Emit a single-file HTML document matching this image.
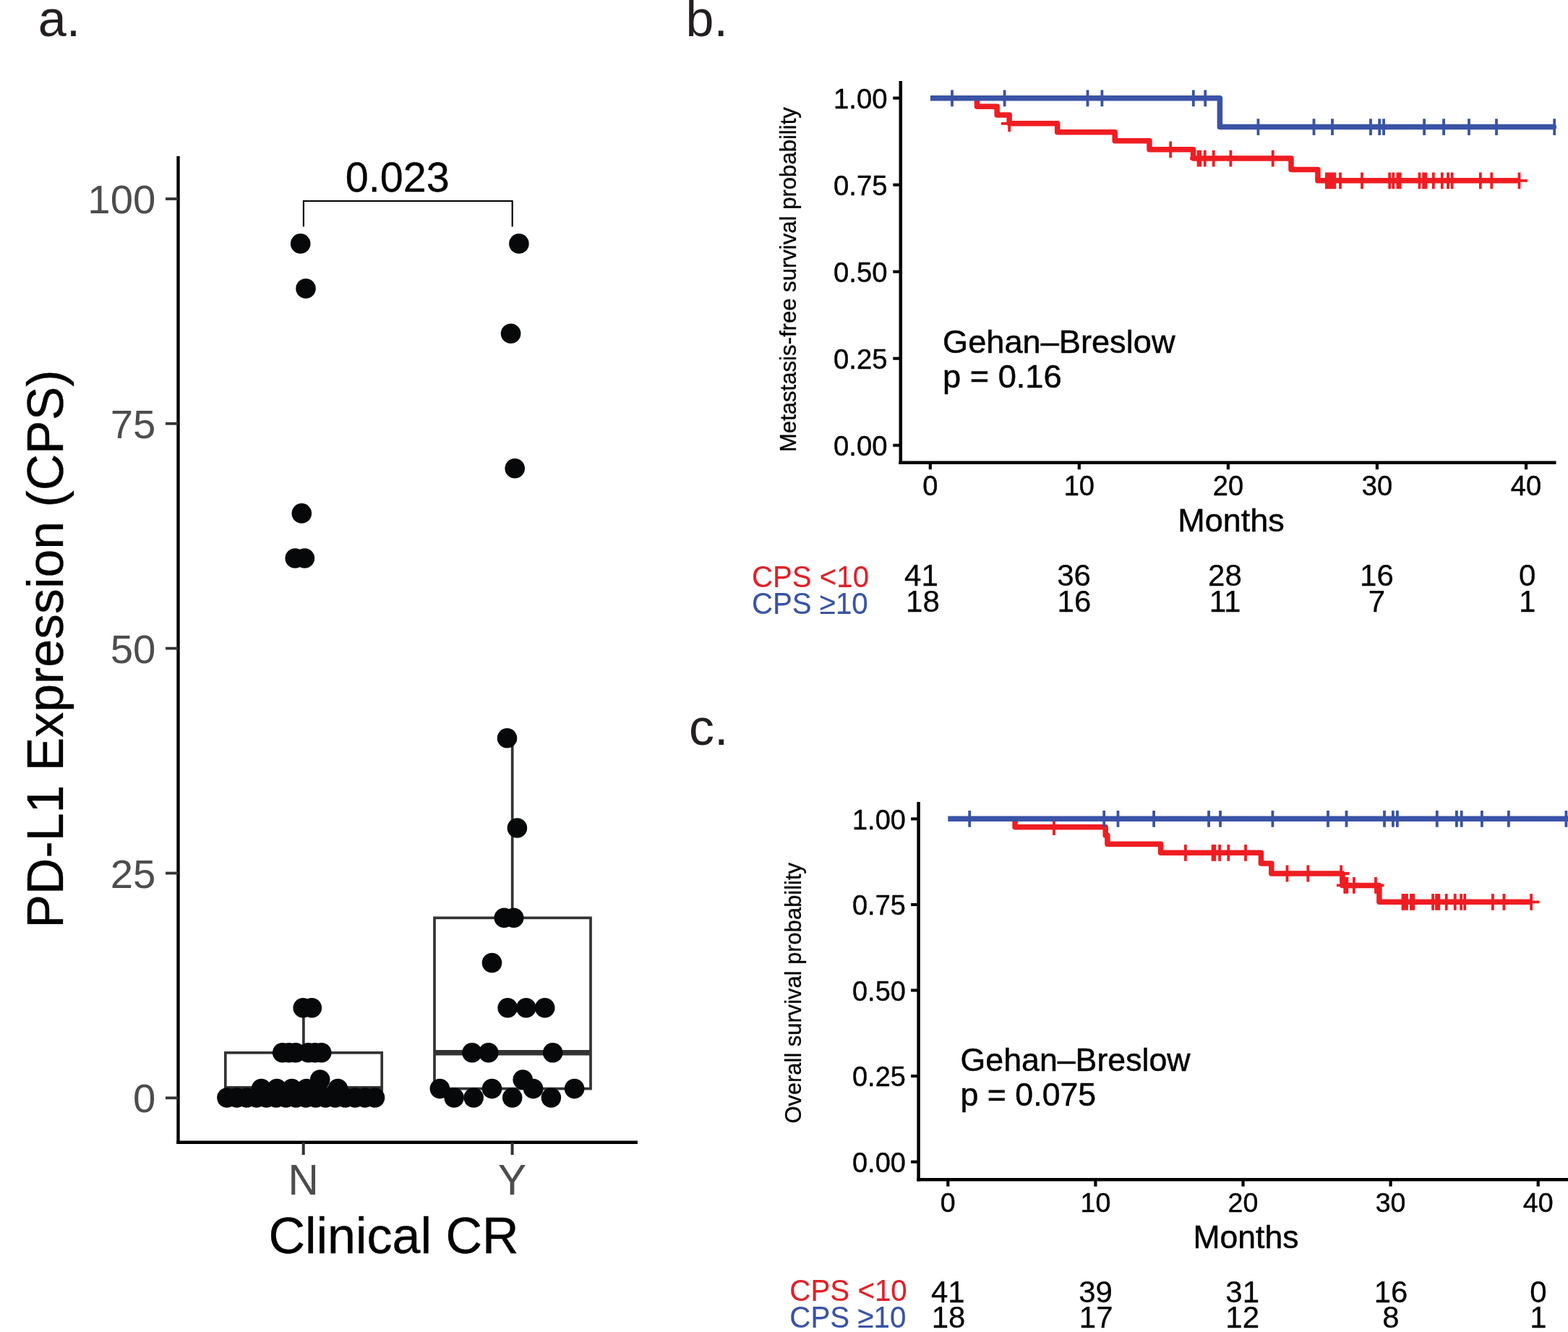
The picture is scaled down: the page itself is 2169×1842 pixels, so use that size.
<!DOCTYPE html>
<html lang="en">
<head>
<meta charset="utf-8">
<title>PD-L1 expression (CPS), clinical CR and survival</title>
<style>
html, body { margin: 0; padding: 0; background: #ffffff; }
body { width: 2169px; height: 1842px; overflow: hidden; }
svg { display: block; font-family: "Liberation Sans", sans-serif; }
text { white-space: pre; }
</style>
</head>
<body>
<svg width="2169" height="1842" viewBox="0 0 2169 1842">
<rect width="2169" height="1842" fill="#ffffff"/>
<text x="52.8" y="49.8" font-size="70.0" fill="#231F20" text-anchor="start">a.</text>
<text x="948.5" y="49.5" font-size="70.0" fill="#231F20" text-anchor="start">b.</text>
<text x="953.0" y="1030.1" font-size="70.0" fill="#231F20" text-anchor="start">c.</text>
<g id="panel-a">
<line x1="246.5" y1="215.9" x2="246.5" y2="1581.9" stroke="#000" stroke-width="4.4" stroke-linecap="butt"/>
<line x1="244.3" y1="1579.7" x2="882.0" y2="1579.7" stroke="#000" stroke-width="4.4" stroke-linecap="butt"/>
<line x1="229.0" y1="1518.3" x2="246.5" y2="1518.3" stroke="#333" stroke-width="3.8" stroke-linecap="butt"/>
<text x="215.3" y="1538.4" font-size="56.3" fill="#4D4D4D" text-anchor="end">0</text>
<line x1="229.0" y1="1207.5" x2="246.5" y2="1207.5" stroke="#333" stroke-width="3.8" stroke-linecap="butt"/>
<text x="215.3" y="1227.6" font-size="56.3" fill="#4D4D4D" text-anchor="end">25</text>
<line x1="229.0" y1="896.6" x2="246.5" y2="896.6" stroke="#333" stroke-width="3.8" stroke-linecap="butt"/>
<text x="215.3" y="916.8" font-size="56.3" fill="#4D4D4D" text-anchor="end">50</text>
<line x1="229.0" y1="585.8" x2="246.5" y2="585.8" stroke="#333" stroke-width="3.8" stroke-linecap="butt"/>
<text x="215.3" y="605.9" font-size="56.3" fill="#4D4D4D" text-anchor="end">75</text>
<line x1="229.0" y1="275.0" x2="246.5" y2="275.0" stroke="#333" stroke-width="3.8" stroke-linecap="butt"/>
<text x="215.3" y="295.1" font-size="56.3" fill="#4D4D4D" text-anchor="end">100</text>
<line x1="419.7" y1="1579.7" x2="419.7" y2="1597.0" stroke="#333" stroke-width="4.0" stroke-linecap="butt"/>
<text x="419.7" y="1651.8" font-size="58.5" fill="#4D4D4D" stroke="#4D4D4D" stroke-width="0.12" text-anchor="middle">N</text>
<line x1="708.6" y1="1579.7" x2="708.6" y2="1597.0" stroke="#333" stroke-width="4.0" stroke-linecap="butt"/>
<text x="708.6" y="1651.8" font-size="58.5" fill="#4D4D4D" stroke="#4D4D4D" stroke-width="0.12" text-anchor="middle">Y</text>
<text transform="translate(86.7 897.5) rotate(-90)" font-size="69.8" fill="#000" stroke="#000" stroke-width="0.35" text-anchor="middle">PD-L1 Expression (CPS)</text>
<text x="544.5" y="1732.7" font-size="70.0" fill="#000" stroke="#000" stroke-width="0.35" text-anchor="middle">Clinical CR</text>
<path d="M419.9 313.5V278H708.7V313.5" fill="none" stroke="#000" stroke-width="2.1"/>
<text x="549.7" y="265.0" font-size="57.5" fill="#000" stroke="#000" stroke-width="0.29" text-anchor="middle">0.023</text>
<line x1="419.9" y1="1455.8" x2="419.9" y2="1393.7" stroke="#333333" stroke-width="3.7"/>
<rect x="311.8" y="1455.8" width="216.4" height="62.2" fill="none" stroke="#333333" stroke-width="3.7"/>
<line x1="311.8" y1="1505.6" x2="528.2" y2="1505.6" stroke="#333333" stroke-width="7.4"/>
<line x1="708.7" y1="1269.3" x2="708.7" y2="1020.7" stroke="#333333" stroke-width="3.7"/>
<rect x="601.0" y="1269.3" width="216.0" height="236.2" fill="none" stroke="#333333" stroke-width="3.7"/>
<line x1="601.0" y1="1455.8" x2="817.0" y2="1455.8" stroke="#333333" stroke-width="7.4"/>
<g fill="#060809">
<circle cx="415.7" cy="336.9" r="13.8"/>
<circle cx="423.0" cy="399.0" r="13.8"/>
<circle cx="417.3" cy="709.9" r="13.8"/>
<circle cx="408.2" cy="772.0" r="13.8"/>
<circle cx="421.4" cy="772.0" r="13.8"/>
<circle cx="419.2" cy="1393.7" r="13.8"/>
<circle cx="431.3" cy="1393.7" r="13.8"/>
<circle cx="390.7" cy="1455.8" r="13.8"/>
<circle cx="399.8" cy="1455.8" r="13.8"/>
<circle cx="409.0" cy="1455.8" r="13.8"/>
<circle cx="426.5" cy="1455.8" r="13.8"/>
<circle cx="435.6" cy="1455.8" r="13.8"/>
<circle cx="444.7" cy="1455.8" r="13.8"/>
<circle cx="442.7" cy="1493.1" r="13.8"/>
<circle cx="361.5" cy="1505.6" r="13.8"/>
<circle cx="383.0" cy="1505.6" r="13.8"/>
<circle cx="403.7" cy="1505.6" r="13.8"/>
<circle cx="424.0" cy="1505.6" r="13.8"/>
<circle cx="467.4" cy="1505.6" r="13.8"/>
<circle cx="313.9" cy="1518.0" r="13.8"/>
<circle cx="327.5" cy="1518.0" r="13.8"/>
<circle cx="341.2" cy="1518.0" r="13.8"/>
<circle cx="354.8" cy="1518.0" r="13.8"/>
<circle cx="368.5" cy="1518.0" r="13.8"/>
<circle cx="382.1" cy="1518.0" r="13.8"/>
<circle cx="395.7" cy="1518.0" r="13.8"/>
<circle cx="409.4" cy="1518.0" r="13.8"/>
<circle cx="423.0" cy="1518.0" r="13.8"/>
<circle cx="436.7" cy="1518.0" r="13.8"/>
<circle cx="450.3" cy="1518.0" r="13.8"/>
<circle cx="463.9" cy="1518.0" r="13.8"/>
<circle cx="477.6" cy="1518.0" r="13.8"/>
<circle cx="491.2" cy="1518.0" r="13.8"/>
<circle cx="504.9" cy="1518.0" r="13.8"/>
<circle cx="518.5" cy="1518.0" r="13.8"/>
<circle cx="717.9" cy="336.9" r="13.8"/>
<circle cx="706.6" cy="461.2" r="13.8"/>
<circle cx="712.2" cy="647.7" r="13.8"/>
<circle cx="701.5" cy="1020.7" r="13.8"/>
<circle cx="715.4" cy="1145.0" r="13.8"/>
<circle cx="697.3" cy="1269.3" r="13.8"/>
<circle cx="710.7" cy="1269.3" r="13.8"/>
<circle cx="680.5" cy="1331.5" r="13.8"/>
<circle cx="702.2" cy="1393.7" r="13.8"/>
<circle cx="727.8" cy="1393.7" r="13.8"/>
<circle cx="753.7" cy="1393.7" r="13.8"/>
<circle cx="653.0" cy="1455.8" r="13.8"/>
<circle cx="675.8" cy="1455.8" r="13.8"/>
<circle cx="764.7" cy="1455.8" r="13.8"/>
<circle cx="723.2" cy="1493.1" r="13.8"/>
<circle cx="608.4" cy="1505.6" r="13.8"/>
<circle cx="680.5" cy="1505.6" r="13.8"/>
<circle cx="737.6" cy="1505.6" r="13.8"/>
<circle cx="794.6" cy="1505.6" r="13.8"/>
<circle cx="628.1" cy="1518.0" r="13.8"/>
<circle cx="655.2" cy="1518.0" r="13.8"/>
<circle cx="708.7" cy="1518.0" r="13.8"/>
<circle cx="762.4" cy="1518.0" r="13.8"/>
</g>
</g>
<g id="panel-b">
<path d="M1351.5 135.8H1351.5V147.2H1379.2V159.0H1396.2V170.8H1462.7V182.8H1542.2V194.8H1590.0V206.8H1650.6V219.1H1786.0V234.5H1822.9V249.8H2101.5" fill="none" stroke="#EF1D22" stroke-width="7.5" stroke-linejoin="round"/>
<path d="M1396.2 159.4V182.2M1384.8 170.8H1407.6M1619.2 195.4V218.2M1607.8 206.8H1630.6M1657.5 207.7V230.5M1646.1 219.1H1668.9M1660.3 207.7V230.5M1648.9 219.1H1671.7M1666.7 207.7V230.5M1655.3 219.1H1678.1M1678.7 207.7V230.5M1667.3 219.1H1690.1M1702.4 207.7V230.5M1691.0 219.1H1713.8M1760.7 207.7V230.5M1749.3 219.1H1772.1M1834.9 238.4V261.2M1823.5 249.8H1846.3M1837.4 238.4V261.2M1826.0 249.8H1848.8M1840.7 238.4V261.2M1829.3 249.8H1852.1M1843.8 238.4V261.2M1832.4 249.8H1855.2M1846.3 238.4V261.2M1834.9 249.8H1857.7M1854.0 238.4V261.2M1842.6 249.8H1865.4M1884.0 238.4V261.2M1872.6 249.8H1895.4M1922.2 238.4V261.2M1910.8 249.8H1933.6M1927.3 238.4V261.2M1915.9 249.8H1938.7M1933.4 238.4V261.2M1922.0 249.8H1944.8M1936.7 238.4V261.2M1925.3 249.8H1948.1M1963.5 238.4V261.2M1952.1 249.8H1974.9M1969.1 238.4V261.2M1957.7 249.8H1980.5M1972.4 238.4V261.2M1961.0 249.8H1983.8M1982.8 238.4V261.2M1971.4 249.8H1994.2M1994.8 238.4V261.2M1983.4 249.8H2006.2M2003.0 238.4V261.2M1991.6 249.8H2014.4M2008.6 238.4V261.2M1997.2 249.8H2020.0M2047.8 238.4V261.2M2036.4 249.8H2059.2M2063.3 238.4V261.2M2051.9 249.8H2074.7M2101.5 238.4V261.2M2090.1 249.8H2112.9" fill="none" stroke="#EF1D22" stroke-width="3.8"/>
<path d="M1286.9 135.8H1687.4V175.6H2152.3" fill="none" stroke="#3A53A6" stroke-width="7.5" stroke-linejoin="round"/>
<path d="M1317.0 124.4V147.2M1305.6 135.8H1328.4M1389.6 124.4V147.2M1378.2 135.8H1401.0M1504.5 124.4V147.2M1493.1 135.8H1515.9M1524.4 124.4V147.2M1513.0 135.8H1535.8M1650.8 124.4V147.2M1639.4 135.8H1662.2M1667.2 124.4V147.2M1655.8 135.8H1678.6M1740.4 164.2V187.0M1729.0 175.6H1751.8M1817.5 164.2V187.0M1806.1 175.6H1828.9M1843.0 164.2V187.0M1831.6 175.6H1854.4M1896.0 164.2V187.0M1884.6 175.6H1907.4M1908.2 164.2V187.0M1896.8 175.6H1919.6M1914.1 164.2V187.0M1902.7 175.6H1925.5M1970.1 164.2V187.0M1958.7 175.6H1981.5M1997.1 164.2V187.0M1985.7 175.6H2008.5M2032.0 164.2V187.0M2020.6 175.6H2043.4M2070.0 164.2V187.0M2058.6 175.6H2081.4M2150.2 164.2V187.0M2138.8 175.6H2153.0" fill="none" stroke="#3A53A6" stroke-width="3.8"/>
<line x1="1245.8" y1="111.9" x2="1245.8" y2="642.0" stroke="#000" stroke-width="4.5" stroke-linecap="butt"/>
<line x1="1243.5" y1="639.7" x2="2152.5" y2="639.7" stroke="#000" stroke-width="4.5" stroke-linecap="butt"/>
<line x1="1235.3" y1="615.8" x2="1245.8" y2="615.8" stroke="#000" stroke-width="4.1" stroke-linecap="butt"/>
<text x="1227.5" y="629.7" font-size="38.3" fill="#000" stroke="#000" stroke-width="0.42" text-anchor="end">0.00</text>
<line x1="1235.3" y1="495.7" x2="1245.8" y2="495.7" stroke="#000" stroke-width="4.1" stroke-linecap="butt"/>
<text x="1227.5" y="509.6" font-size="38.3" fill="#000" stroke="#000" stroke-width="0.42" text-anchor="end">0.25</text>
<line x1="1235.3" y1="375.7" x2="1245.8" y2="375.7" stroke="#000" stroke-width="4.1" stroke-linecap="butt"/>
<text x="1227.5" y="389.6" font-size="38.3" fill="#000" stroke="#000" stroke-width="0.42" text-anchor="end">0.50</text>
<line x1="1235.3" y1="255.6" x2="1245.8" y2="255.6" stroke="#000" stroke-width="4.1" stroke-linecap="butt"/>
<text x="1227.5" y="269.5" font-size="38.3" fill="#000" stroke="#000" stroke-width="0.42" text-anchor="end">0.75</text>
<line x1="1235.3" y1="135.6" x2="1245.8" y2="135.6" stroke="#000" stroke-width="4.1" stroke-linecap="butt"/>
<text x="1227.5" y="149.5" font-size="38.3" fill="#000" stroke="#000" stroke-width="0.42" text-anchor="end">1.00</text>
<line x1="1286.8" y1="639.7" x2="1286.8" y2="649.2" stroke="#000" stroke-width="4.2" stroke-linecap="butt"/>
<text x="1286.8" y="685.0" font-size="38.0" fill="#000" stroke="#000" stroke-width="0.42" text-anchor="middle">0</text>
<line x1="1492.8" y1="639.7" x2="1492.8" y2="649.2" stroke="#000" stroke-width="4.2" stroke-linecap="butt"/>
<text x="1492.8" y="685.0" font-size="38.0" fill="#000" stroke="#000" stroke-width="0.42" text-anchor="middle">10</text>
<line x1="1698.9" y1="639.7" x2="1698.9" y2="649.2" stroke="#000" stroke-width="4.2" stroke-linecap="butt"/>
<text x="1698.9" y="685.0" font-size="38.0" fill="#000" stroke="#000" stroke-width="0.42" text-anchor="middle">20</text>
<line x1="1904.9" y1="639.7" x2="1904.9" y2="649.2" stroke="#000" stroke-width="4.2" stroke-linecap="butt"/>
<text x="1904.9" y="685.0" font-size="38.0" fill="#000" stroke="#000" stroke-width="0.42" text-anchor="middle">30</text>
<line x1="2111.0" y1="639.7" x2="2111.0" y2="649.2" stroke="#000" stroke-width="4.2" stroke-linecap="butt"/>
<text x="2111.0" y="685.0" font-size="38.0" fill="#000" stroke="#000" stroke-width="0.42" text-anchor="middle">40</text>
<text transform="translate(1100.8 386.6) rotate(-90)" font-size="31.1" fill="#000" stroke="#000" stroke-width="0.34" text-anchor="middle">Metastasis-free survival probability</text>
<text x="1703.0" y="735.0" font-size="45.0" fill="#000" stroke="#000" stroke-width="0.49" text-anchor="middle">Months</text>
<text x="1304.0" y="487.8" font-size="45.2" fill="#000" stroke="#000" stroke-width="0.50" text-anchor="start">Gehan–Breslow</text>
<text x="1304.0" y="536.0" font-size="45.2" fill="#000" stroke="#000" stroke-width="0.50" text-anchor="start">p = 0.16</text>
<text transform="translate(1040.0 811.5) scale(0.94 1)" font-size="42.8" fill="#DF2128" stroke="#DF2128" stroke-width="0.17" text-anchor="start">CPS &lt;10</text>
<text transform="translate(1040.0 849.0) scale(0.94 1)" font-size="42.8" fill="#3A53A4" stroke="#3A53A4" stroke-width="0.17" text-anchor="start">CPS ≥10</text>
<text transform="translate(1274.5 809.9) scale(1.0 1)" font-size="42.1" fill="#000" stroke="#000" stroke-width="0.25" text-anchor="middle">41</text>
<text transform="translate(1485.6 809.9) scale(1.0 1)" font-size="42.1" fill="#000" stroke="#000" stroke-width="0.25" text-anchor="middle">36</text>
<text transform="translate(1694.5 809.9) scale(1.0 1)" font-size="42.1" fill="#000" stroke="#000" stroke-width="0.25" text-anchor="middle">28</text>
<text transform="translate(1904.5 809.9) scale(1.0 1)" font-size="42.1" fill="#000" stroke="#000" stroke-width="0.25" text-anchor="middle">16</text>
<text transform="translate(2112.8 809.9) scale(1.0 1)" font-size="42.1" fill="#000" stroke="#000" stroke-width="0.25" text-anchor="middle">0</text>
<text transform="translate(1276.5 846.3) scale(1.0 1)" font-size="42.1" fill="#000" stroke="#000" stroke-width="0.25" text-anchor="middle">18</text>
<text transform="translate(1486.0 846.3) scale(1.0 1)" font-size="42.1" fill="#000" stroke="#000" stroke-width="0.25" text-anchor="middle">16</text>
<text transform="translate(1694.5 846.3) scale(1.0 1)" font-size="42.1" fill="#000" stroke="#000" stroke-width="0.25" text-anchor="middle">11</text>
<text transform="translate(1904.5 846.3) scale(1.0 1)" font-size="42.1" fill="#000" stroke="#000" stroke-width="0.25" text-anchor="middle">7</text>
<text transform="translate(2112.8 846.3) scale(1.0 1)" font-size="42.1" fill="#000" stroke="#000" stroke-width="0.25" text-anchor="middle">1</text>
</g>
<g id="panel-c">
<path d="M1404.1 1132.3H1404.1V1143.7H1529.2V1155.3H1531.9V1167.3H1605.6V1179.3H1744.4V1194.1H1758.8V1208.0H1857.0V1224.4H1907.9V1247.3H2118.1" fill="none" stroke="#EF1D22" stroke-width="7.5" stroke-linejoin="round"/>
<path d="M1457.9 1132.3V1155.1M1446.5 1143.7H1469.3M1639.9 1167.9V1190.7M1628.5 1179.3H1651.3M1677.6 1167.9V1190.7M1666.2 1179.3H1689.0M1680.3 1167.9V1190.7M1668.9 1179.3H1691.7M1687.1 1167.9V1190.7M1675.7 1179.3H1698.5M1699.3 1167.9V1190.7M1687.9 1179.3H1710.7M1723.0 1167.9V1190.7M1711.6 1179.3H1734.4M1780.5 1196.6V1219.4M1769.1 1208.0H1791.9M1809.3 1196.6V1219.4M1797.9 1208.0H1820.7M1855.2 1196.6V1219.4M1843.8 1208.0H1866.6M1860.3 1213.0V1235.8M1848.9 1224.4H1871.7M1863.4 1213.0V1235.8M1852.0 1224.4H1874.8M1872.9 1213.0V1235.8M1861.5 1224.4H1884.3M1903.0 1213.0V1235.8M1891.6 1224.4H1914.4M1940.5 1235.9V1258.7M1929.1 1247.3H1951.9M1943.3 1235.9V1258.7M1931.9 1247.3H1954.7M1946.0 1235.9V1258.7M1934.6 1247.3H1957.4M1952.0 1235.9V1258.7M1940.6 1247.3H1963.4M1955.3 1235.9V1258.7M1943.9 1247.3H1966.7M1982.1 1235.9V1258.7M1970.7 1247.3H1993.5M1987.0 1235.9V1258.7M1975.6 1247.3H1998.4M1990.3 1235.9V1258.7M1978.9 1247.3H2001.7M2000.7 1235.9V1258.7M1989.3 1247.3H2012.1M2012.7 1235.9V1258.7M2001.3 1247.3H2024.1M2021.1 1235.9V1258.7M2009.7 1247.3H2032.5M2026.2 1235.9V1258.7M2014.8 1247.3H2037.6M2064.9 1235.9V1258.7M2053.5 1247.3H2076.3M2080.4 1235.9V1258.7M2069.0 1247.3H2091.8M2118.1 1235.9V1258.7M2106.7 1247.3H2129.5" fill="none" stroke="#EF1D22" stroke-width="3.8"/>
<path d="M1311.3 1132.3H2175.0" fill="none" stroke="#3A53A6" stroke-width="7.5" stroke-linejoin="round"/>
<path d="M1341.2 1120.9V1143.7M1329.8 1132.3H1352.6M1527.2 1120.9V1143.7M1515.8 1132.3H1538.6M1546.5 1120.9V1143.7M1535.1 1132.3H1557.9M1596.1 1120.9V1143.7M1584.7 1132.3H1607.5M1672.1 1120.9V1143.7M1660.7 1132.3H1683.5M1688.0 1120.9V1143.7M1676.6 1132.3H1699.4M1760.4 1120.9V1143.7M1749.0 1132.3H1771.8M1837.0 1120.9V1143.7M1825.6 1132.3H1848.4M1862.5 1120.9V1143.7M1851.1 1132.3H1873.9M1915.0 1120.9V1143.7M1903.6 1132.3H1926.4M1926.9 1120.9V1143.7M1915.5 1132.3H1938.3M1932.9 1120.9V1143.7M1921.5 1132.3H1944.3M1987.8 1120.9V1143.7M1976.4 1132.3H1999.2M2014.9 1120.9V1143.7M2003.5 1132.3H2026.3M2021.7 1120.9V1143.7M2010.3 1132.3H2033.1M2049.9 1120.9V1143.7M2038.5 1132.3H2061.3M2086.9 1120.9V1143.7M2075.5 1132.3H2098.3M2166.4 1120.9V1143.7M2155.0 1132.3H2175.5" fill="none" stroke="#3A53A6" stroke-width="3.8"/>
<line x1="1270.6" y1="1109.0" x2="1270.6" y2="1633.5" stroke="#000" stroke-width="4.5" stroke-linecap="butt"/>
<line x1="1268.3" y1="1631.2" x2="2175.0" y2="1631.2" stroke="#000" stroke-width="4.5" stroke-linecap="butt"/>
<line x1="1260.1" y1="1606.7" x2="1270.6" y2="1606.7" stroke="#000" stroke-width="4.1" stroke-linecap="butt"/>
<text x="1252.8" y="1621.0" font-size="37.9" fill="#000" stroke="#000" stroke-width="0.42" text-anchor="end">0.00</text>
<line x1="1260.1" y1="1488.1" x2="1270.6" y2="1488.1" stroke="#000" stroke-width="4.1" stroke-linecap="butt"/>
<text x="1252.8" y="1502.4" font-size="37.9" fill="#000" stroke="#000" stroke-width="0.42" text-anchor="end">0.25</text>
<line x1="1260.1" y1="1369.5" x2="1270.6" y2="1369.5" stroke="#000" stroke-width="4.1" stroke-linecap="butt"/>
<text x="1252.8" y="1383.8" font-size="37.9" fill="#000" stroke="#000" stroke-width="0.42" text-anchor="end">0.50</text>
<line x1="1260.1" y1="1251.0" x2="1270.6" y2="1251.0" stroke="#000" stroke-width="4.1" stroke-linecap="butt"/>
<text x="1252.8" y="1265.3" font-size="37.9" fill="#000" stroke="#000" stroke-width="0.42" text-anchor="end">0.75</text>
<line x1="1260.1" y1="1132.4" x2="1270.6" y2="1132.4" stroke="#000" stroke-width="4.1" stroke-linecap="butt"/>
<text x="1252.8" y="1146.7" font-size="37.9" fill="#000" stroke="#000" stroke-width="0.42" text-anchor="end">1.00</text>
<line x1="1311.3" y1="1631.2" x2="1311.3" y2="1640.7" stroke="#000" stroke-width="4.2" stroke-linecap="butt"/>
<text x="1311.3" y="1676.0" font-size="37.6" fill="#000" stroke="#000" stroke-width="0.41" text-anchor="middle">0</text>
<line x1="1515.4" y1="1631.2" x2="1515.4" y2="1640.7" stroke="#000" stroke-width="4.2" stroke-linecap="butt"/>
<text x="1515.4" y="1676.0" font-size="37.6" fill="#000" stroke="#000" stroke-width="0.41" text-anchor="middle">10</text>
<line x1="1719.5" y1="1631.2" x2="1719.5" y2="1640.7" stroke="#000" stroke-width="4.2" stroke-linecap="butt"/>
<text x="1719.5" y="1676.0" font-size="37.6" fill="#000" stroke="#000" stroke-width="0.41" text-anchor="middle">20</text>
<line x1="1923.6" y1="1631.2" x2="1923.6" y2="1640.7" stroke="#000" stroke-width="4.2" stroke-linecap="butt"/>
<text x="1923.6" y="1676.0" font-size="37.6" fill="#000" stroke="#000" stroke-width="0.41" text-anchor="middle">30</text>
<line x1="2127.7" y1="1631.2" x2="2127.7" y2="1640.7" stroke="#000" stroke-width="4.2" stroke-linecap="butt"/>
<text x="2127.7" y="1676.0" font-size="37.6" fill="#000" stroke="#000" stroke-width="0.41" text-anchor="middle">40</text>
<text transform="translate(1108.4 1373.3) rotate(-90)" font-size="30.9" fill="#000" stroke="#000" stroke-width="0.34" text-anchor="middle">Overall survival probability</text>
<text x="1723.5" y="1726.0" font-size="44.5" fill="#000" stroke="#000" stroke-width="0.49" text-anchor="middle">Months</text>
<text x="1328.6" y="1480.9" font-size="44.7" fill="#000" stroke="#000" stroke-width="0.49" text-anchor="start">Gehan–Breslow</text>
<text x="1328.6" y="1529.3" font-size="44.7" fill="#000" stroke="#000" stroke-width="0.49" text-anchor="start">p = 0.075</text>
<text transform="translate(1092.3 1798.8) scale(0.94 1)" font-size="42.9" fill="#DF2128" stroke="#DF2128" stroke-width="0.17" text-anchor="start">CPS &lt;10</text>
<text transform="translate(1092.3 1836.0) scale(0.94 1)" font-size="42.9" fill="#3A53A4" stroke="#3A53A4" stroke-width="0.17" text-anchor="start">CPS ≥10</text>
<text transform="translate(1311.3 1800.6) scale(1.0 1)" font-size="42.0" fill="#000" stroke="#000" stroke-width="0.25" text-anchor="middle">41</text>
<text transform="translate(1515.5 1800.6) scale(1.0 1)" font-size="42.0" fill="#000" stroke="#000" stroke-width="0.25" text-anchor="middle">39</text>
<text transform="translate(1718.7 1800.6) scale(1.0 1)" font-size="42.0" fill="#000" stroke="#000" stroke-width="0.25" text-anchor="middle">31</text>
<text transform="translate(1924.0 1800.6) scale(1.0 1)" font-size="42.0" fill="#000" stroke="#000" stroke-width="0.25" text-anchor="middle">16</text>
<text transform="translate(2128.0 1800.6) scale(1.0 1)" font-size="42.0" fill="#000" stroke="#000" stroke-width="0.25" text-anchor="middle">0</text>
<text transform="translate(1312.0 1836.0) scale(1.0 1)" font-size="42.0" fill="#000" stroke="#000" stroke-width="0.25" text-anchor="middle">18</text>
<text transform="translate(1516.2 1836.0) scale(1.0 1)" font-size="42.0" fill="#000" stroke="#000" stroke-width="0.25" text-anchor="middle">17</text>
<text transform="translate(1718.7 1836.0) scale(1.0 1)" font-size="42.0" fill="#000" stroke="#000" stroke-width="0.25" text-anchor="middle">12</text>
<text transform="translate(1924.0 1836.0) scale(1.0 1)" font-size="42.0" fill="#000" stroke="#000" stroke-width="0.25" text-anchor="middle">8</text>
<text transform="translate(2128.0 1836.0) scale(1.0 1)" font-size="42.0" fill="#000" stroke="#000" stroke-width="0.25" text-anchor="middle">1</text>
</g>
</svg>
</body>
</html>
